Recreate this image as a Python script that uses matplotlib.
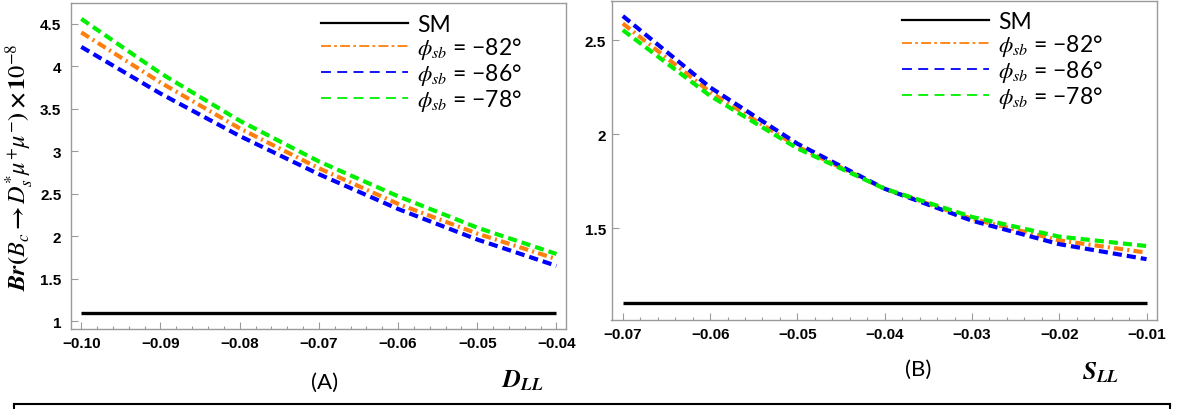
import matplotlib
matplotlib.use("Agg")
import matplotlib.pyplot as plt
from matplotlib.lines import Line2D
from matplotlib.ticker import MultipleLocator, FixedLocator
from matplotlib.font_manager import FontProperties

# ---- data -------------------------------------------------------------
d_ll = [-0.10, -0.09, -0.08, -0.07, -0.06, -0.05, -0.04]
br_d_sm = [1.10, 1.10, 1.10, 1.10, 1.10, 1.10, 1.10]
br_d_82 = [4.40, 3.81, 3.27, 2.80, 2.38, 2.03, 1.73]
br_d_86 = [4.23, 3.68, 3.18, 2.73, 2.32, 1.96, 1.65]
br_d_78 = [4.56, 3.92, 3.36, 2.88, 2.47, 2.10, 1.79]

s_ll = [-0.07, -0.06, -0.05, -0.04, -0.03, -0.02, -0.01]
br_s_sm = [1.10, 1.10, 1.10, 1.10, 1.10, 1.10, 1.10]
br_s_82 = [2.59, 2.225, 1.935, 1.71, 1.55, 1.435, 1.37]
br_s_86 = [2.63, 2.25, 1.95, 1.71, 1.54, 1.415, 1.335]
br_s_78 = [2.555, 2.205, 1.925, 1.71, 1.56, 1.455, 1.405]

legend_labels = ["SM", r"$\phi_{sb}$ = −82°", r"$\phi_{sb}$ = −86°", r"$\phi_{sb}$ = −78°"]
left_xticks = [-0.10, -0.09, -0.08, -0.07, -0.06, -0.05, -0.04]
left_yticks = [1, 1.5, 2, 2.5, 3, 3.5, 4, 4.5]
right_xticks = [-0.07, -0.06, -0.05, -0.04, -0.03, -0.02, -0.01]
right_yticks = [1.5, 2, 2.5]

# ---- styles -----------------------------------------------------------
C_SM = "black"
C_82 = "#ff7f0e"
C_86 = "#0000ff"
C_78 = "#00f000"
DASH = (0, (2.2, 1.2))
DASHDOT = (0, (2.2, 1.0, 0.5, 1.0))
LW = 3.0
FRAME = "#9a9a9a"

W, H = 1181, 410
fig = plt.figure(figsize=(W / 100, H / 100), dpi=100)
ax1 = fig.add_axes([71 / W, 1 - 330 / H, 495 / W, 326 / H])
ax2 = fig.add_axes([611.5 / W, 1 - 321 / H, 545.5 / W, 319 / H])

tick_font = FontProperties(family="Liberation Sans", weight="bold", size=11)
leg_font = FontProperties(family="Lato", size=16.5, math_fontfamily="stix")


def draw_panel(ax, x, sm, y82, y86, y78, xlim, ylim, xticks, yticks,
               leg_anchor, ypad):
    ax.plot(x, sm, color=C_SM, lw=2.4, solid_capstyle="butt")
    ax.plot(x, y82, color=C_82, lw=LW, linestyle=DASHDOT)
    ax.plot(x, y86, color=C_86, lw=LW, linestyle=DASH)
    ax.plot(x, y78, color=C_78, lw=LW, linestyle=DASH)
    ax.set_xlim(*xlim)
    ax.set_ylim(*ylim)
    ax.xaxis.set_major_locator(FixedLocator(xticks))
    ax.xaxis.set_minor_locator(MultipleLocator(0.002))
    ax.yaxis.set_major_locator(FixedLocator(yticks))
    for s in ax.spines.values():
        s.set_color(FRAME)
        s.set_linewidth(1.0)
    ax.tick_params(which="both", direction="in", color=FRAME, width=0.8,
                   top=False, right=False)
    ax.tick_params(which="major", length=5)
    ax.tick_params(which="minor", length=2.5)
    ax.tick_params(axis="x", which="major", pad=5)
    ax.tick_params(axis="y", which="major", pad=ypad)
    ax.set_xticklabels([("%.2f" % v).replace("-", "−") for v in xticks],
                       fontproperties=tick_font)
    ax.set_yticklabels(["%g" % v for v in yticks], fontproperties=tick_font)

    handles = [
        Line2D([], [], color=C_SM, lw=1.6),
        Line2D([], [], color=C_82, lw=1.3, linestyle=(0, (5.5, 1.8, 1.5, 1.8))),
        Line2D([], [], color=C_86, lw=1.3, linestyle=(0, (5.5, 3.5))),
        Line2D([], [], color=C_78, lw=1.3, linestyle=(0, (5.5, 3.5))),
    ]
    ax.legend(handles, legend_labels, loc="upper left", frameon=False,
              prop=leg_font, handlelength=3.8, handletextpad=0.4,
              labelspacing=0.0, borderpad=0.0, borderaxespad=0.0,
              bbox_to_anchor=leg_anchor)


draw_panel(ax1, d_ll, br_d_sm, br_d_82, br_d_86, br_d_78,
           (-0.1013, -0.0388), (0.906, 4.747),
           left_xticks, left_yticks, (0.505, 0.965), 7)
draw_panel(ax2, s_ll, br_s_sm, br_s_82, br_s_86, br_s_78,
           (-0.0713, -0.0088), (1.011, 2.71),
           right_xticks, right_yticks, (0.532, 0.97), 4)

# axis titles and panel tags
ax1.set_ylabel(r"$\boldsymbol{Br(B_c \rightarrow D_s^{*}\mu^{+}\mu^{-})\times 10^{-8}}$",
               fontsize=17.5, math_fontfamily="stix", labelpad=3)
fig.text(522 / W, 1 - 381 / H, r"$\mathbfit{D}_{\mathbfit{LL}}$", fontsize=18,
         math_fontfamily="stix", ha="center", va="center")
fig.text(1101 / W, 1 - 373 / H, r"$\mathbfit{S}_{\mathbfit{LL}}$", fontsize=18,
         math_fontfamily="stix", ha="center", va="center")
fig.text(325 / W, 1 - 383 / H, "(A)", fontsize=16, family="Lato",
         ha="center", va="center")
fig.text(918 / W, 1 - 370 / H, "(B)", fontsize=16, family="Lato",
         ha="center", va="center")

# caption box outline along the bottom edge
y_box = 1 - 404.5 / H
fig.add_artist(Line2D([14 / W, 1170 / W], [y_box, y_box],
                      transform=fig.transFigure, color="black", lw=1.5))
fig.add_artist(Line2D([14 / W, 14 / W], [y_box, 0],
                      transform=fig.transFigure, color="black", lw=1.5))
fig.add_artist(Line2D([1170 / W, 1170 / W], [y_box, 0],
                      transform=fig.transFigure, color="black", lw=1.5))

fig.savefig("out.png", dpi=100, facecolor="white")
